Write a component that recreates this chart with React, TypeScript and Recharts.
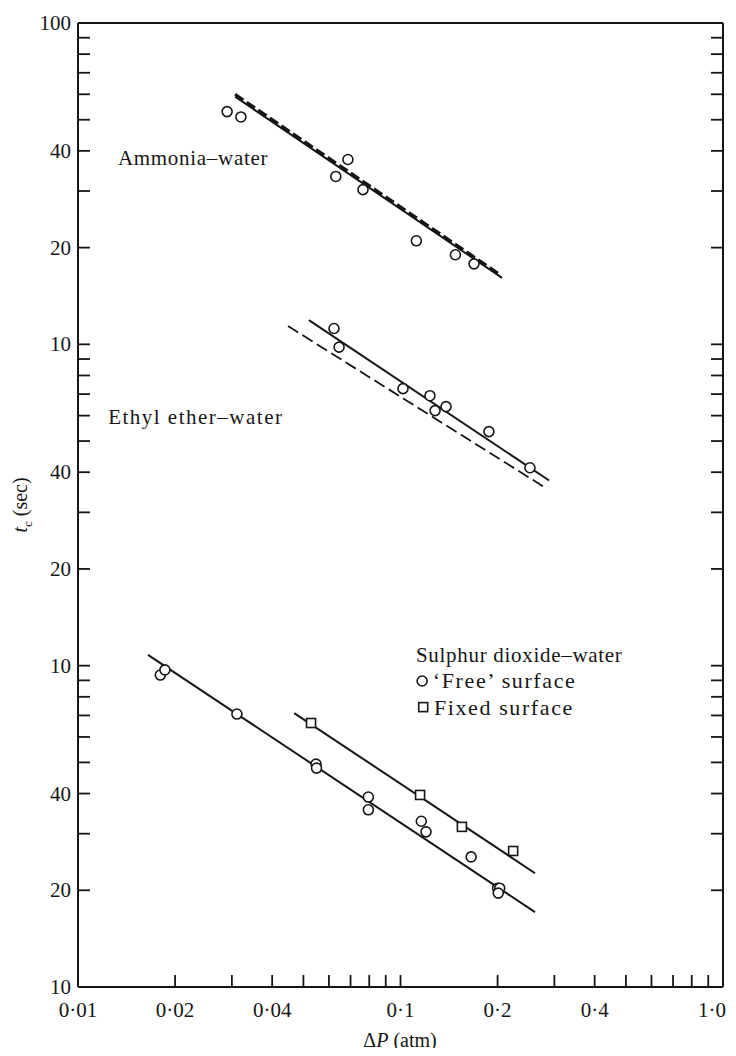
import React from "react";
import { ComposedChart, Line, Scatter, XAxis, YAxis, ReferenceDot } from "recharts";

// ΔP axis (atm), log scale
const xTicks = [
  0.01, 0.02, 0.03, 0.04, 0.05, 0.06, 0.07, 0.08, 0.09,
  0.1, 0.2, 0.3, 0.4, 0.5, 0.6, 0.7, 0.8, 0.9, 1,
];
const xLabels: Record<number, string> = {
  0.01: "0·01", 0.02: "0·02", 0.04: "0·04", 0.1: "0·1", 0.2: "0·2", 0.4: "0·4", 1: "1·0",
};

// t_c axis: three stacked decades (bottom = SO2, middle = ether, top = ammonia)
const yTicks = [
  1, 2, 3, 4, 5, 6, 7, 8, 9,
  10, 20, 30, 40, 50, 60, 70, 80, 90,
  100, 200, 300, 400, 500, 600, 700, 800, 900, 1000,
];
const yLabels: Record<number, string> = {
  1: "10", 2: "20", 4: "40", 10: "10", 20: "20", 40: "40", 100: "10", 200: "20", 400: "40", 1000: "100",
};

// decade shift of each panel on the stacked axis
const so2Shift = 0.1;
const etherShift = 1;
const ammoniaShift = 10;

// Ammonia-water
const ammoniaDP = [0.029, 0.032, 0.063, 0.0687, 0.0765, 0.112, 0.148, 0.169];
const ammoniaTc = [53, 51, 33.3, 37.6, 30.3, 21, 19, 17.8];
const ammoniaFitDP = [0.0307, 0.2065];
const ammoniaFitTc = [59, 16.1];
const ammoniaDashDP = [0.0307, 0.205];
const ammoniaDashTc = [60, 16.4];

// Ethyl ether-water
const etherDP = [0.0622, 0.0645, 0.1018, 0.1234, 0.128, 0.1384, 0.188, 0.252];
const etherTc = [112, 98, 72.8, 69.2, 62.2, 64, 53.5, 41.3];
const etherFitDP = [0.052, 0.289];
const etherFitTc = [119, 37.7];
const etherDashDP = [0.0448, 0.281];
const etherDashTc = [114, 35.8];

// Sulphur dioxide-water, 'free' surface
const so2FreeDP = [0.018, 0.0186, 0.0311, 0.0547, 0.0549, 0.0795, 0.0795, 0.116, 0.12, 0.1656, 0.2, 0.203, 0.201];
const so2FreeTc = [93.5, 97, 70.7, 49.4, 48, 39, 35.6, 32.8, 30.4, 25.4, 20.3, 20.3, 19.6];
const so2FreeFitDP = [0.01648, 0.2613];
const so2FreeFitTc = [108, 17.1];

// Sulphur dioxide-water, fixed surface
const so2FixedDP = [0.0528, 0.115, 0.155, 0.2235];
const so2FixedTc = [66.3, 39.6, 31.5, 26.5];
const so2FixedFitDP = [0.0468, 0.2613];
const so2FixedFitTc = [71.2, 22.6];

const pts = (dp: number[], tc: number[], shift: number) =>
  dp.map((x, i) => ({ x, y: tc[i] * shift }));

const INK = "#161616";
const FONT = "'Liberation Serif', 'DejaVu Serif', serif";
const TICK = 12;

function LeftTick(props: any) {
  const { x, y, payload } = props;
  const label = yLabels[payload.value];
  return (
    <g>
      <line x1={x} x2={x + TICK} y1={y} y2={y} stroke={INK} strokeWidth={1.8} />
      {label && (
        <text x={x - 7} y={y} textAnchor="end" dominantBaseline="central" fontFamily={FONT} fontSize={21} fill={INK}>
          {label}
        </text>
      )}
    </g>
  );
}

function RightTick(props: any) {
  const { x, y } = props;
  return <line x1={x - TICK} x2={x} y1={y} y2={y} stroke={INK} strokeWidth={1.8} />;
}

function BottomTick(props: any) {
  const { x, y, payload } = props;
  const label = xLabels[payload.value];
  const last = payload.value === 1;
  return (
    <g>
      <line x1={x} x2={x} y1={y - TICK} y2={y} stroke={INK} strokeWidth={1.8} />
      {label && (
        <text
          x={last ? x + 3 : x}
          y={y + 23}
          textAnchor={last ? "end" : "middle"}
          dominantBaseline="central"
          fontFamily={FONT}
          fontSize={21}
          fill={INK}
        >
          {label}
        </text>
      )}
    </g>
  );
}

function TopTick(props: any) {
  const { x, y } = props;
  return <line x1={x} x2={x} y1={y} y2={y + TICK} stroke={INK} strokeWidth={1.8} />;
}

const OpenCircle = (p: any) => (
  <circle cx={p.cx} cy={p.cy} r={5} fill="#fff" stroke={INK} strokeWidth={1.6} />
);
const OpenSquare = (p: any) => (
  <rect x={p.cx - 4.5} y={p.cy - 4.5} width={9} height={9} fill="#fff" stroke={INK} strokeWidth={1.6} />
);

const note = (text: string, spacing = 0.7, size = 21) => (p: any) => (
  <text
    x={p.cx}
    y={p.cy}
    dominantBaseline="central"
    fontFamily={FONT}
    fontSize={size}
    letterSpacing={spacing}
    fill={INK}
  >
    {text}
  </text>
);

export default function App() {
  return (
    <div style={{ position: "relative", width: 720, height: 1040, background: "#fff" }}>
      <style>{".recharts-surface{overflow:visible}"}</style>
      <ComposedChart width={720} height={1040} margin={{ top: 10, right: 0, bottom: 30, left: 30 }}>
        <XAxis
          dataKey="x"
          type="number"
          scale="log"
          domain={[0.01, 1]}
          allowDataOverflow
          ticks={xTicks}
          interval={0}
          height={31}
          tickSize={0}
          tickMargin={0}
          tickLine={false}
          axisLine={{ stroke: INK, strokeWidth: 2 }}
          tick={<BottomTick />}
        />
        <XAxis
          xAxisId="top"
          orientation="top"
          type="number"
          scale="log"
          domain={[0.01, 1]}
          allowDataOverflow
          ticks={xTicks}
          interval={0}
          height={5}
          tickSize={0}
          tickMargin={0}
          tickLine={false}
          axisLine={{ stroke: INK, strokeWidth: 2 }}
          tick={<TopTick />}
        />
        <YAxis
          dataKey="y"
          type="number"
          scale="log"
          domain={[1, 1000]}
          allowDataOverflow
          ticks={yTicks}
          interval={0}
          width={40}
          tickSize={0}
          tickMargin={0}
          tickLine={false}
          axisLine={{ stroke: INK, strokeWidth: 2 }}
          tick={<LeftTick />}
        />
        <YAxis
          yAxisId="right"
          orientation="right"
          type="number"
          scale="log"
          domain={[1, 1000]}
          allowDataOverflow
          ticks={yTicks}
          interval={0}
          width={5}
          tickSize={0}
          tickMargin={0}
          tickLine={false}
          axisLine={{ stroke: INK, strokeWidth: 2 }}
          tick={<RightTick />}
        />

        <Line data={pts(ammoniaDashDP, ammoniaDashTc, ammoniaShift)} dataKey="y" stroke={INK} strokeWidth={3} strokeDasharray="10 4" dot={false} isAnimationActive={false} />
        <Line data={pts(ammoniaFitDP, ammoniaFitTc, ammoniaShift)} dataKey="y" stroke={INK} strokeWidth={2} dot={false} isAnimationActive={false} />
        <Line data={pts(etherDashDP, etherDashTc, etherShift)} dataKey="y" stroke={INK} strokeWidth={1.8} strokeDasharray="12 5" dot={false} isAnimationActive={false} />
        <Line data={pts(etherFitDP, etherFitTc, etherShift)} dataKey="y" stroke={INK} strokeWidth={2} dot={false} isAnimationActive={false} />
        <Line data={pts(so2FreeFitDP, so2FreeFitTc, so2Shift)} dataKey="y" stroke={INK} strokeWidth={2} dot={false} isAnimationActive={false} />
        <Line data={pts(so2FixedFitDP, so2FixedFitTc, so2Shift)} dataKey="y" stroke={INK} strokeWidth={2} dot={false} isAnimationActive={false} />

        <Scatter data={pts(ammoniaDP, ammoniaTc, ammoniaShift)} shape={OpenCircle} isAnimationActive={false} />
        <Scatter data={pts(etherDP, etherTc, etherShift)} shape={OpenCircle} isAnimationActive={false} />
        <Scatter data={pts(so2FreeDP, so2FreeTc, so2Shift)} shape={OpenCircle} isAnimationActive={false} />
        <Scatter data={pts(so2FixedDP, so2FixedTc, so2Shift)} shape={OpenSquare} isAnimationActive={false} />

        <ReferenceDot x={0.0133} y={381} r={1} shape={note("Ammonia–water")} />
        <ReferenceDot x={0.0124} y={59.2} r={1} shape={note("Ethyl ether–water", 1.5)} />
        <ReferenceDot x={0.1117} y={10.8} r={1} shape={note("Sulphur dioxide–water")} />
        <ReferenceDot x={0.1167} y={8.96} r={1} shape={OpenCircle} />
        <ReferenceDot x={0.126} y={8.96} r={1} shape={note("‘Free’ surface", 1.6, 22)} />
        <ReferenceDot x={0.1176} y={7.43} r={1} shape={OpenSquare} />
        <ReferenceDot x={0.127} y={7.43} r={1} shape={note("Fixed surface", 1.6, 22)} />
      </ComposedChart>

      <div style={{ position: "absolute", left: 0, top: 1021, width: 784, textAlign: "center", fontFamily: FONT, fontSize: 20, color: INK }}>
        Δ<i>P</i> (atm)
      </div>
      <div
        style={{
          position: "absolute",
          left: 14,
          top: 497,
          transform: "translate(-50%, -50%) rotate(-90deg)",
          whiteSpace: "nowrap",
          fontFamily: FONT,
          fontSize: 20,
          color: INK,
        }}
      >
        <i>t</i>
        <sub style={{ fontSize: 13 }}>c</sub> (sec)
      </div>
    </div>
  );
}
